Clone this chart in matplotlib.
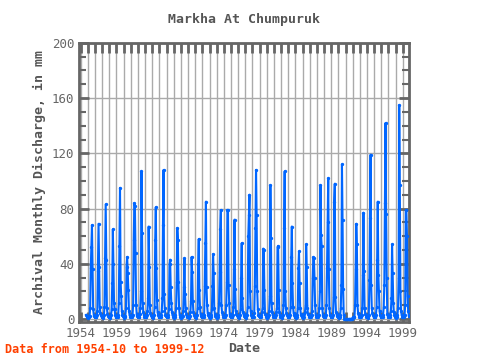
import numpy as np
import pandas as pd
import matplotlib
matplotlib.use("Agg")
import matplotlib.pyplot as plt
from matplotlib.ticker import MultipleLocator, FixedLocator

# monthly discharge (mm), one row per year
start = "1954-10"
discharge_mm = [
    3.0, 2.2, 1.6,                                                  # 1954 Oct-Dec
    1.3, 1.1, 1.2, 2.4, 8, 37, 52, 68, 36, 7, 3.1, 1.9,              # 1955
    1.4, 1.2, 1.3, 2.6, 6, 35, 69, 38, 9, 4.5, 2.8, 1.8,             # 1956
    1.3, 1.1, 1.2, 3.0, 9, 44, 83, 43, 8, 4.0, 2.5, 1.7,             # 1957
    1.2, 1.0, 1.3, 2.8, 7, 26, 65, 40, 12, 7, 3.0, 1.8,              # 1958
    1.4, 1.2, 1.4, 3.2, 12, 53, 95, 27, 17, 6, 3.0, 1.9,             # 1959
    1.3, 1.1, 1.2, 2.5, 8, 38, 45, 33, 21, 6, 2.8, 1.7,              # 1960
    1.4, 1.2, 1.3, 3.0, 10, 57, 84, 82, 48, 10, 3.5, 2.0,            # 1961
    1.5, 1.2, 1.4, 3.5, 8, 20, 107, 62, 12, 5, 2.9, 1.8,             # 1962
    1.4, 1.2, 1.3, 2.7, 6, 15, 67, 38, 10, 4.5, 2.6, 1.7,            # 1963
    1.3, 1.1, 1.2, 2.9, 9, 57, 81, 37, 14, 5, 2.8, 1.8,              # 1964
    1.4, 1.2, 1.3, 3.0, 6, 15, 68, 108, 18, 8, 3.2, 2.0,             # 1965
    1.5, 1.2, 1.3, 2.8, 7, 40, 43, 23, 12, 5, 2.7, 1.7,              # 1966
    1.3, 1.1, 1.2, 2.6, 8, 27, 66, 57, 27, 8, 3.0, 1.8,              # 1967
    1.3, 1.1, 1.2, 2.5, 6, 23, 44, 18, 8, 4, 2.5, 1.6,               # 1968
    1.2, 1.0, 1.2, 2.4, 5, 13, 45, 34, 13, 5, 2.6, 1.6,              # 1969
    1.3, 1.1, 1.2, 2.7, 8, 40, 58, 21, 9, 4, 2.5, 1.6,               # 1970
    1.4, 1.2, 1.3, 3.0, 24, 55, 85, 23, 10, 4.5, 2.7, 1.7,           # 1971
    1.3, 1.1, 1.2, 2.6, 7, 24, 47, 33, 8, 4, 2.5, 1.6,               # 1972
    1.3, 1.1, 1.2, 2.8, 12, 34, 65, 79, 10, 5, 2.8, 1.7,             # 1973
    1.4, 1.2, 1.3, 3.0, 10, 27, 79, 79, 25, 12, 3.5, 1.9,            # 1974
    1.4, 1.2, 1.3, 2.9, 9, 36, 72, 22, 6, 4, 2.6, 1.7,               # 1975
    1.3, 1.1, 1.2, 2.6, 7, 30, 55, 15, 5, 3.5, 2.4, 1.6,             # 1976
    1.3, 1.1, 1.2, 3.0, 9, 60, 75, 90, 20, 6, 3.0, 1.8,              # 1977
    1.4, 1.2, 1.3, 4.5, 24, 66, 108, 75, 20, 7, 3.2, 2.0,            # 1978
    1.5, 1.2, 1.3, 2.6, 5, 8, 51, 50, 21, 4, 2.6, 1.7,               # 1979
    1.3, 1.1, 1.2, 2.8, 6, 17, 97, 59, 12, 5, 2.8, 1.8,              # 1980
    1.4, 1.2, 1.3, 2.6, 5, 8, 52, 53, 21, 5, 2.7, 1.7,               # 1981
    1.3, 1.1, 1.2, 3.0, 10, 66, 107, 20, 8, 4.5, 2.8, 1.8,           # 1982
    1.4, 1.2, 1.3, 2.8, 9, 45, 67, 26, 9, 4.5, 2.7, 1.7,             # 1983
    1.3, 1.1, 1.2, 2.7, 8, 37, 49, 26, 8, 4, 2.6, 1.7,               # 1984
    1.3, 1.1, 1.3, 3.5, 5, 10, 54, 38, 8, 4, 2.6, 1.7,               # 1985
    1.4, 1.2, 1.3, 2.6, 6, 30, 45, 44, 30, 10, 3.0, 1.8,             # 1986
    1.4, 1.2, 1.3, 3.0, 8, 20, 97, 61, 53, 8, 3.2, 1.9,              # 1987
    1.4, 1.2, 1.3, 3.0, 10, 37, 70, 102, 36, 8, 3.2, 1.9,            # 1988
    1.4, 1.2, 1.3, 3.2, 16, 85, 98, 16, 5, 3.5, 2.5, 1.7,            # 1989
    1.3, 1.1, 1.2, 2.8, 8, 25, 112, 72, 22, 3, 0, 0,                 # 1990
    0, 0, 0, 0, 0, 0, 0, 0, 0, 0, 0, 0,                              # 1991
    1.2, 1.0, 1.2, 1.5, 10, 36, 69, 54, 10, 4.5, 2.7, 1.7,           # 1992
    1.4, 1.2, 1.3, 2.8, 8, 32, 77, 35, 8, 4, 2.6, 1.7,               # 1993
    1.3, 1.1, 1.2, 3.0, 28, 73, 119, 25, 8, 4.5, 2.8, 1.8,           # 1994
    1.4, 1.2, 1.3, 2.8, 9, 43, 85, 32, 20, 6, 3.0, 1.8,              # 1995
    1.4, 1.2, 1.3, 3.0, 9, 25, 84, 142, 76, 30, 4, 2.0,              # 1996
    1.5, 1.2, 1.3, 2.7, 6, 15, 54, 33, 12, 5, 2.7, 1.7,              # 1997
    1.3, 1.1, 1.2, 3.0, 8, 30, 155, 97, 20, 6, 3.0, 1.8,             # 1998
    1.4, 1.2, 1.3, 3.0, 10, 79, 79, 60, 17, 6, 3.0, 2.0,             # 1999
]

title = "Markha At Chumpuruk"
ylabel = "Archival Monthly Discharge, in mm"
note = "Data from 1954-10 to 1999-12"

dates = pd.date_range(start, periods=len(discharge_mm), freq="MS")
t = dates.year + (dates.month - 1) / 12.0

grey = "#666666"
mono = "DejaVu Sans Mono"

fig = plt.figure(figsize=(4.8, 3.6), dpi=100)
ax = fig.add_axes([0.165, 0.106, 0.687, 0.775])

ax.plot(t, discharge_mm, color="#0066ff", lw=1.5, marker="o", ms=1.4, zorder=3)

ax.set_xlim(1953.8, 1999.86)
ax.set_ylim(-2, 200)

ax.xaxis.set_major_locator(FixedLocator(np.arange(1954, 2000, 5)))
ax.xaxis.set_minor_locator(FixedLocator(np.arange(1954, 2000, 1)))
ax.yaxis.set_major_locator(MultipleLocator(40))
ax.yaxis.set_minor_locator(MultipleLocator(10))

ax.grid(True, which="major", axis="y", color="#aaaaaa", lw=1)
ax.grid(True, which="both", axis="x", color="#aaaaaa", lw=1)
ax.set_axisbelow(True)

ax.tick_params(which="both", direction="in", top=True, right=True, color=grey,
               labelcolor=grey, labelsize=9)
ax.tick_params(which="major", length=7, width=2)
ax.tick_params(which="minor", length=5, width=1.5)
ax.tick_params(axis="x", which="minor", length=7, width=2)
for lab in ax.get_xticklabels() + ax.get_yticklabels():
    lab.set_family(mono)

for s in ax.spines.values():
    s.set_color(grey)
    s.set_linewidth(2)

ax.set_title(title, family=mono, fontsize=9.5, color="#555555", weight="bold", pad=14)
ax.set_ylabel(ylabel, family=mono, fontsize=9.5, color="#555555", weight="bold")
ax.set_xlabel("Date", family=mono, fontsize=9.5, color="#555555", weight="bold", labelpad=2)

fig.text(0.01, 0.02, note, family=mono, fontsize=8.5, color="#ff4000", weight="bold")

fig.savefig("out.png", dpi=100)
